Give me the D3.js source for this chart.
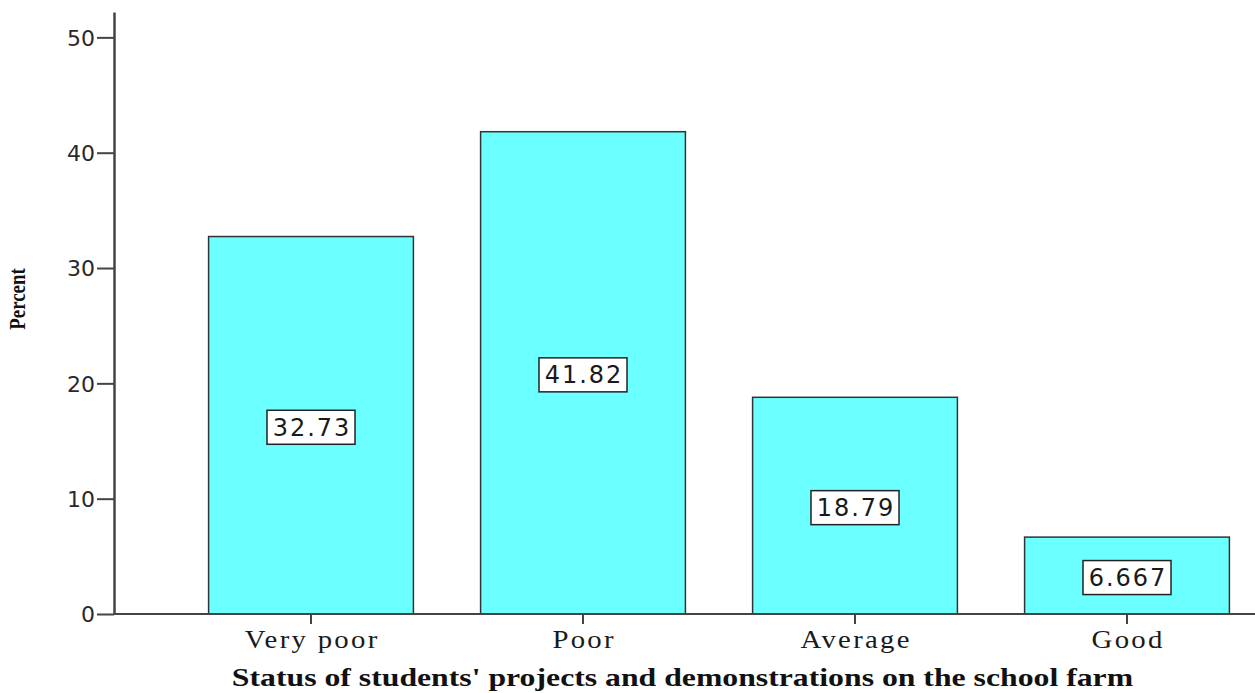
<!DOCTYPE html>
<html>
<head>
<meta charset="utf-8">
<script src="https://cdn.jsdelivr.net/npm/d3@7"></script>
<style>
  body { margin: 0; background: #fff; }
  svg { display: block; }
  .axis path, .axis line { stroke: #444; }
  .bar { fill: #6bffff; stroke: #333; stroke-width: 1.5; }
  .lbl-box { fill: #fff; stroke: #222; stroke-width: 1.5; }
</style>
</head>
<body>
<svg id="chart" width="1255" height="693"></svg>
<script>
'use strict';

const categories = ['Very poor', 'Poor', 'Average', 'Good'];
const percents = [32.73, 41.82, 18.79, 6.667];
const labels = ['32.73', '41.82', '18.79', '6.667'];
const yTicks = [0, 10, 20, 30, 40, 50];

const svg = d3.select('#chart');
const plotLeft = 114, plotRight = 1255, plotTop = 12, plotBottom = 614;

const x = d3.scaleBand()
    .domain(categories)
    .range([175, 1263])
    .paddingInner(0.247)
    .paddingOuter(0.1235);

const y = d3.scaleLinear().domain([0, 52.2]).range([plotBottom, plotTop]);

// bars
svg.append('g').selectAll('rect')
    .data(percents)
    .enter().append('rect')
    .attr('class', 'bar')
    .attr('x', (d, i) => x(categories[i]))
    .attr('width', x.bandwidth())
    .attr('y', d => y(d))
    .attr('height', d => y(0) - y(d));

// y axis
const yAxis = d3.axisLeft(y).tickValues(yTicks).tickSize(17).tickSizeOuter(0).tickPadding(2);
const gy = svg.append('g')
    .attr('class', 'axis')
    .attr('transform', 'translate(' + plotLeft + ',0)')
    .call(yAxis);
gy.select('.domain').attr('stroke-width', 2.5);
gy.selectAll('.tick line').attr('stroke-width', 2);
gy.selectAll('.tick text')
    .attr('font-family', 'DejaVu Sans, sans-serif')
    .attr('font-size', 22)
    .attr('fill', '#2a2a2a')
    .attr('dy', '0.36em');

// x axis
const xAxis = d3.axisBottom(x).tickSize(10).tickSizeOuter(0).tickPadding(6);
const gx = svg.append('g')
    .attr('class', 'axis')
    .attr('transform', 'translate(0,' + plotBottom + ')')
    .call(xAxis);
gx.select('.domain').remove();
gx.append('line')
    .attr('x1', plotLeft).attr('x2', plotRight)
    .attr('stroke', '#444').attr('stroke-width', 2);
gx.selectAll('.tick line').attr('stroke-width', 2);
gx.selectAll('.tick text')
    .attr('font-family', 'Liberation Serif, serif')
    .attr('font-size', 25)
    .attr('letter-spacing', 2)
    .attr('dx', 1)
    .attr('transform', 'scale(1.15,1)')
    .attr('x', 0)
    .attr('fill', '#1a1a1a');

// value labels
const lbl = svg.append('g').selectAll('g')
    .data(percents)
    .enter().append('g')
    .attr('transform', (d, i) =>
        'translate(' + (x(categories[i]) + x.bandwidth() / 2) + ',' + (y(d / 2) + 2) + ')');

lbl.append('text')
    .attr('text-anchor', 'middle')
    .attr('dy', '0.36em')
    .attr('dx', 1)
    .attr('font-family', 'DejaVu Sans, sans-serif')
    .attr('font-size', 24)
    .attr('letter-spacing', 2)
    .attr('fill', '#1a1a1a')
    .text((d, i) => labels[i]);

lbl.each(function () {
    const g = d3.select(this);
    g.insert('rect', 'text')
        .attr('class', 'lbl-box')
        .attr('x', -44).attr('y', -17)
        .attr('width', 88).attr('height', 34);
});

// axis titles
svg.append('text')
    .attr('transform', 'translate(' + ((plotLeft + plotRight) / 2 - 2) + ',686) scale(1.27,1)')
    .attr('text-anchor', 'middle')
    .attr('font-family', 'Liberation Serif, serif')
    .attr('font-weight', 'bold')
    .attr('font-size', 25)
    .attr('fill', '#111')
    .text("Status of students' projects and demonstrations on the school farm");

svg.append('text')
    .attr('transform', 'translate(25,299) rotate(-90) scale(0.82,1)')
    .attr('text-anchor', 'middle')
    .attr('font-family', 'Liberation Serif, serif')
    .attr('font-weight', 'bold')
    .attr('font-size', 23)
    .attr('fill', '#111')
    .text('Percent');
</script>
</body>
</html>
